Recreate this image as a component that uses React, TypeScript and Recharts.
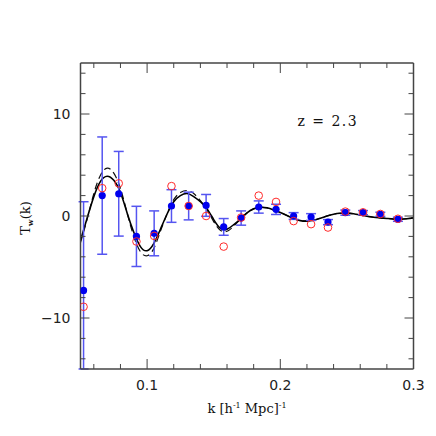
import React from "react";
import { ComposedChart, Line, Scatter, XAxis, YAxis, ErrorBar, ReferenceDot } from "recharts";

// measured k positions of the binned points
const kPoints = [0.0523, 0.0663, 0.0787, 0.092, 0.1053, 0.1183, 0.1312, 0.1443, 0.1575, 0.1706, 0.1838, 0.1968, 0.21, 0.2231, 0.2358, 0.2488, 0.2621, 0.2751, 0.2883];
const tBlue = [-7.3, 2.0, 2.18, -2.0, -1.7, 0.98, 0.98, 1.04, -1.07, -0.2, 0.88, 0.65, 0.0, -0.1, -0.6, 0.33, 0.33, 0.17, -0.32];
const tBlueErr = [8.7, 5.75, 4.15, 2.95, 2.2, 1.6, 1.36, 1.07, 0.82, 0.7, 0.6, 0.5, 0.33, 0.33, 0.25, 0.25, 0.2, 0.2, 0.2];
const tRed = [-8.9, 2.73, 3.2, -2.5, -1.95, 2.93, 0.98, 0.0, -3.0, -0.15, 2.0, 1.38, -0.5, -0.8, -1.13, 0.43, 0.36, 0.2, -0.27];

const kCurve = [0.05, 0.055, 0.06, 0.065, 0.07, 0.075, 0.08, 0.085, 0.09, 0.095, 0.1, 0.105, 0.11, 0.115, 0.12, 0.125, 0.13, 0.135, 0.14, 0.145, 0.15, 0.155, 0.16, 0.165, 0.17, 0.175, 0.18, 0.185, 0.19, 0.195, 0.2, 0.205, 0.21, 0.215, 0.22, 0.225, 0.23, 0.235, 0.24, 0.245, 0.25, 0.255, 0.26, 0.265, 0.27, 0.275, 0.28, 0.285, 0.29, 0.295, 0.3];
const tSolid = [-2.4, -0.2, 1.9, 3.4, 3.9, 3.5, 2.3, 0.3, -1.6, -3.0, -3.4, -2.7, -1.3, 0.2, 1.4, 2.0, 2.2, 1.9, 1.4, 0.7, -0.35, -1.2, -1.3, -0.85, -0.3, 0.3, 0.7, 0.85, 0.8, 0.6, 0.35, 0.05, -0.25, -0.45, -0.5, -0.42, -0.22, 0.0, 0.18, 0.27, 0.28, 0.22, 0.1, -0.02, -0.12, -0.18, -0.24, -0.3, -0.32, -0.27, -0.18];
const tDashed = [-2.6, -0.3, 2.2, 4.0, 4.7, 4.2, 2.7, 0.3, -2.0, -3.5, -3.9, -3.2, -1.5, 0.2, 1.6, 2.3, 2.5, 2.2, 1.5, 0.6, -0.55, -1.4, -1.5, -1.0, -0.3, 0.3, 0.7, 0.85, 0.8, 0.6, 0.35, 0.05, -0.25, -0.45, -0.5, -0.42, -0.22, 0.0, 0.18, 0.27, 0.28, 0.22, 0.1, -0.02, -0.12, -0.18, -0.24, -0.3, -0.32, -0.27, -0.18];

const xTicks = [0.06, 0.08, 0.1, 0.12, 0.14, 0.16, 0.18, 0.2, 0.22, 0.24, 0.26, 0.28, 0.3];
const xMajor = [0.1, 0.2, 0.3];
const xMajorLabels = ["0.1", "0.2", "0.3"];
const yTicks = [-14, -12, -10, -8, -6, -4, -2, 0, 2, 4, 6, 8, 10, 12, 14];
const yMajor = [-10, 0, 10];
const yMajorLabels = ["\u221210", "0", "10"];
const yDomain = [-15, 15];

// error bars are cut at the frame, like the plot window does
const blueData = kPoints.map((k, i) => ({
  k,
  t: tBlue[i],
  err: [Math.min(tBlueErr[i], tBlue[i] - yDomain[0]), Math.min(tBlueErr[i], yDomain[1] - tBlue[i])],
}));
const redData = kPoints.map((k, i) => ({ k, t: tRed[i] }));
const solidData = kCurve.map((k, i) => ({ k, t: tSolid[i] }));
const dashedData = kCurve.map((k, i) => ({ k, t: tDashed[i] }));

const AX = "#444";
const TICKFONT = "DejaVu Sans";
const LABELFONT = "DejaVu Serif";

const majorIdx = (arr: number[], v: number) => arr.findIndex((m) => Math.abs(m - v) < 1e-6);

const XTickBottom = (p: any) => {
  const { x, y, payload } = p;
  const mi = majorIdx(xMajor, payload.value);
  return (
    <g>
      <line x1={x} x2={x} y1={y} y2={y - (mi >= 0 ? 10 : 5)} stroke={AX} strokeWidth={1} />
      {mi >= 0 && (
        <text x={x} y={y + 21} textAnchor="middle" fontSize={14} fontFamily={TICKFONT} fill="#222">
          {xMajorLabels[mi]}
        </text>
      )}
    </g>
  );
};
const XTickTop = (p: any) => {
  const { x, y, payload } = p;
  const mi = majorIdx(xMajor, payload.value);
  return <line x1={x} x2={x} y1={y} y2={y + (mi >= 0 ? 10 : 5)} stroke={AX} strokeWidth={1} />;
};
const YTickLeft = (p: any) => {
  const { x, y, payload } = p;
  const mi = majorIdx(yMajor, payload.value);
  return (
    <g>
      <line x1={x} x2={x + (mi >= 0 ? 9 : 5)} y1={y} y2={y} stroke={AX} strokeWidth={1} />
      {mi >= 0 && (
        <text x={x - 10} y={y + 5} textAnchor="end" fontSize={14} fontFamily={TICKFONT} fill="#222">
          {yMajorLabels[mi]}
        </text>
      )}
    </g>
  );
};
const YTickRight = (p: any) => {
  const { x, y, payload } = p;
  const mi = majorIdx(yMajor, payload.value);
  return <line x1={x} x2={x - (mi >= 0 ? 9 : 5)} y1={y} y2={y} stroke={AX} strokeWidth={1} />;
};

const XLabel = (p: any) => {
  const vb = p.viewBox || { x: 72.5, y: 361, width: 333, height: 50 };
  const cx = vb.x + vb.width / 2;
  const by = vb.y + 44;
  return (
    <text x={cx} y={by} textAnchor="middle" fontSize={13} fontFamily={LABELFONT} fill="#111">
      <tspan>k [h</tspan>
      <tspan dy={-5} fontSize={8}>-1</tspan>
      <tspan dy={5}> Mpc]</tspan>
      <tspan dy={-5} fontSize={8}>-1</tspan>
    </text>
  );
};

const YLabel = (p: any) => {
  const vb = p.viewBox || { x: 12.5, y: 55, width: 60, height: 306 };
  const bx = vb.x + 9;
  const cy = vb.y + vb.height / 2 + 2;
  return (
    <text x={bx} y={cy} transform={`rotate(-90, ${bx}, ${cy})`} textAnchor="middle" fontSize={13} fontFamily={LABELFONT} fill="#111">
      <tspan>T</tspan>
      <tspan dy={3} fontSize={8} fontWeight="bold">w</tspan>
      <tspan dy={-3}>(k)</tspan>
    </text>
  );
};

const ZLabel = (p: any) => {
  const vb = p.viewBox;
  if (!vb) return null;
  return (
    <text x={vb.x + vb.width / 2} y={vb.y + vb.height / 2 + 5} textAnchor="middle" fontSize={14} fontFamily={LABELFONT} letterSpacing={1.5} fill="#111">
      z = 2.3
    </text>
  );
};

const BlueDot = (p: any) => <circle cx={p.cx} cy={p.cy} r={3.6} fill="#0000ee" />;
const RedRing = (p: any) => <circle cx={p.cx} cy={p.cy} r={3.8} fill="none" stroke="#ff2a2a" strokeWidth={1} />;

export default function App() {
  return (
    <ComposedChart width={420} height={420} margin={{ top: 54, right: 13.5, bottom: 9, left: 12.5 }}>
      <XAxis xAxisId="b" type="number" dataKey="k" domain={[0.05, 0.3]} allowDataOverflow ticks={xTicks} interval={0} tickSize={0} tickMargin={0} tickLine={false} tick={<XTickBottom />} axisLine={{ stroke: AX, strokeWidth: 1.5 }} orientation="bottom" height={50} label={<XLabel />} />
      <XAxis xAxisId="t" type="number" dataKey="k" domain={[0.05, 0.3]} allowDataOverflow ticks={xTicks} interval={0} tickSize={0} tickMargin={0} tickLine={false} tick={<XTickTop />} axisLine={{ stroke: AX, strokeWidth: 1.5 }} orientation="top" height={1} />
      <YAxis yAxisId="l" type="number" dataKey="t" domain={yDomain} allowDataOverflow ticks={yTicks} interval={0} tickSize={0} tickMargin={0} tickLine={false} tick={<YTickLeft />} axisLine={{ stroke: AX, strokeWidth: 1.5 }} orientation="left" width={60} label={<YLabel />} />
      <YAxis yAxisId="r" type="number" dataKey="t" domain={yDomain} allowDataOverflow ticks={yTicks} interval={0} tickSize={0} tickMargin={0} tickLine={false} tick={<YTickRight />} axisLine={{ stroke: AX, strokeWidth: 1.5 }} orientation="right" width={1} />
      <Line xAxisId="t" yAxisId="r" data={solidData} dataKey="t" type="linear" stroke="none" strokeWidth={0} dot={false} activeDot={false} legendType="none" isAnimationActive={false} />
      <Line xAxisId="b" yAxisId="l" data={dashedData} dataKey="t" type="natural" stroke="#111" strokeWidth={1.2} strokeDasharray="7 4" dot={false} isAnimationActive={false} />
      <Line xAxisId="b" yAxisId="l" data={solidData} dataKey="t" type="natural" stroke="#000" strokeWidth={1.6} dot={false} isAnimationActive={false} />
      <Scatter xAxisId="b" yAxisId="l" data={blueData} dataKey="t" shape={BlueDot} isAnimationActive={false}>
        <ErrorBar dataKey="err" direction="y" width={5} stroke="#5555f0" strokeWidth={1.5} isAnimationActive={false} />
      </Scatter>
      <Scatter xAxisId="b" yAxisId="l" data={redData} dataKey="t" shape={RedRing} isAnimationActive={false} />
      <ReferenceDot xAxisId="b" yAxisId="l" x={0.2357} y={9.34} r={1} fill="none" stroke="none" label={<ZLabel />} />
    </ComposedChart>
  );
}
